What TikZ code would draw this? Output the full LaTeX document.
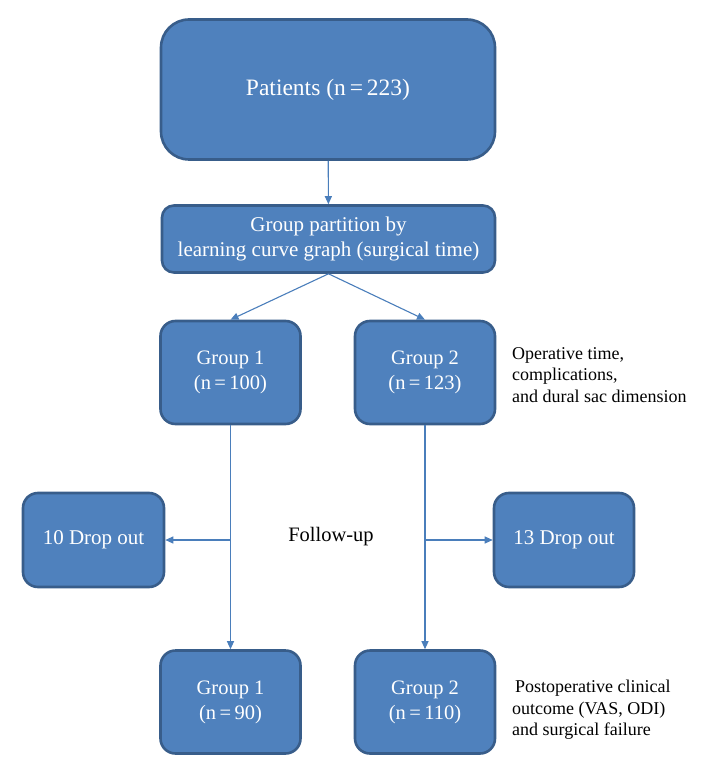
\documentclass[tikz,border=0pt]{standalone}
\usepackage{fontspec}
\setmainfont{Liberation Serif}
\usepackage{tikz}
\usetikzlibrary{positioning,arrows.meta}
\definecolor{boxFill}{RGB}{79,129,189}
\definecolor{boxLine}{RGB}{56,93,138}
\definecolor{arrowColor}{RGB}{74,126,187}
\tikzstyle{flowBox} = [draw=boxLine, fill=boxFill, line width=2.6pt, text=white, align=center, inner sep=0pt, rounded corners=15pt]
\tikzstyle{groupBox} = [flowBox, minimum width=140pt, minimum height=103pt, font=\fontsize{20.5}{25}\selectfont]
\tikzstyle{dropBox} = [flowBox, minimum width=141pt, minimum height=94pt, font=\fontsize{21}{25}\selectfont]
\tikzstyle{flowArrow} = [draw=arrowColor, line width=1.1pt, -{Triangle[width=7pt,length=8pt]}]
\tikzstyle{sideText} = [align=left, anchor=north west, inner sep=0pt, font=\fontsize{18}{21.5}\selectfont]

\begin{document}
\begin{tikzpicture}[x=1pt, y=-1pt]
  \useasboundingbox (0,0) rectangle (718,775);

  % top boxes
  \node [flowBox, minimum width=334pt, minimum height=140pt, rounded corners=28pt,
    font=\fontsize{23.5}{28}\selectfont] (patients) at (328,89.5) {Patients (n\,=\,223)};
  \node [flowBox, minimum width=333pt, minimum height=67pt, rounded corners=12pt,
    font=\fontsize{21}{25}\selectfont] (partition) at (328.5,239)
    {Group partition by\\learning curve graph (surgical time)};

  % groups before follow-up
  \node [groupBox] (groupOne) at (230.5,372.5) {Group 1\\(n\,=\,100)};
  \node [groupBox] (groupTwo) at (425,372.5) {Group 2\\(n\,=\,123)};

  % drop outs
  \node [dropBox] (dropOne) at (93.5,540) {10 Drop out};
  \node [dropBox, minimum width=140pt] (dropTwo) at (564,540) {13 Drop out};
  \node [font=\fontsize{20.5}{24}\selectfont] (followUp) at (331,537) {Follow-up};

  % groups after follow-up
  \node [groupBox] (groupOneEnd) at (230.5,702) {Group 1\\(n\,=\,90)};
  \node [groupBox] (groupTwoEnd) at (425,702) {Group 2\\(n\,=\,110)};

  % notes
  \node [sideText] (opNote) at (512,347)
    {Operative time,\\complications,\\and dural sac dimension};
  \node [sideText] (postNote) at (512,680)
    {\hspace{3pt}Postoperative clinical\\outcome (VAS, ODI)\\and surgical failure};

  % connectors
  \coordinate (splitOne) at (groupOne.south |- dropOne.east);
  \coordinate (splitTwo) at (groupTwo.south |- dropTwo.west);
  \draw [flowArrow] (patients) -- (partition);
  \draw [flowArrow] (partition.south) -- (groupOne.north);
  \draw [flowArrow] (partition.south) -- (groupTwo.north);
  \draw [flowArrow] (groupOne) -- (groupOneEnd);
  \draw [flowArrow] (groupTwo) -- (groupTwoEnd);
  \draw [flowArrow] (splitOne) -- (dropOne);
  \draw [flowArrow] (splitTwo) -- (dropTwo);
\end{tikzpicture}
\end{document}
